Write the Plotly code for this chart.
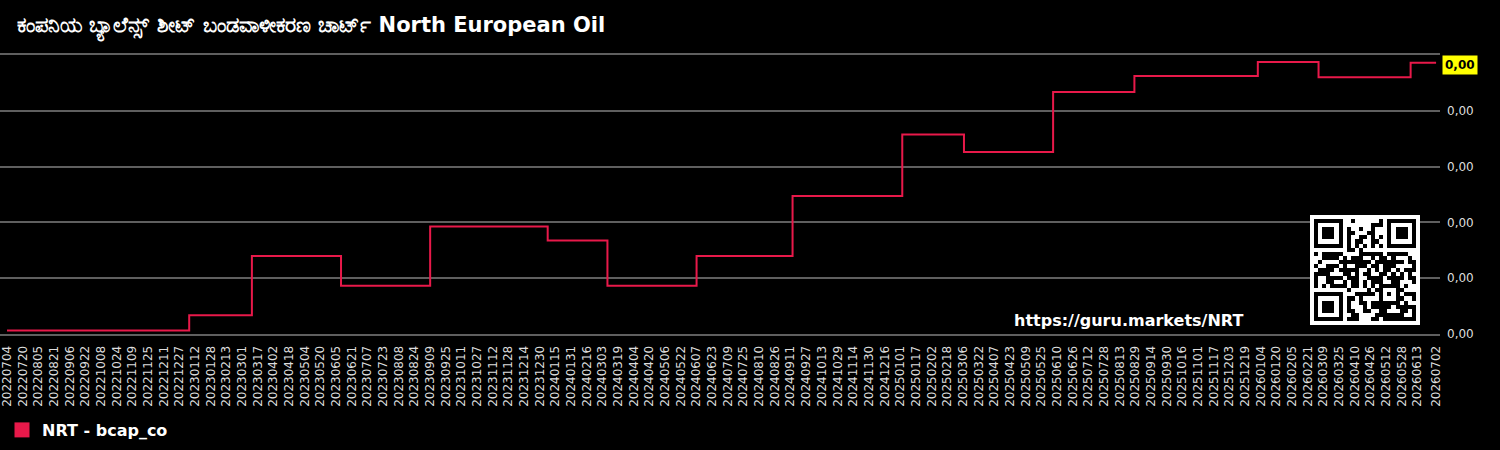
import base64
import pandas as pd
import plotly.graph_objects as go

# ---------------- data ----------------
title_text = "ಕಂಪನಿಯ ಬ್ಯಾಲೆನ್ಸ್ ಶೀಟ್ ಬಂಡವಾಳೀಕರಣ ಚಾರ್ಟ್ North European Oil"
series_name = "NRT - bcap_co"
watermark_text = "https://guru.markets/NRT"

change_dates = ["20220704", "20230106", "20230311", "20230610", "20230909",
                "20240107", "20240308", "20240607", "20240913", "20250103",
                "20250307", "20250606", "20250828", "20260101", "20260304",
                "20260606", "20260702"]
levels = [0.00005, 0.00027, 0.00112, 0.00069, 0.00154,
          0.00134, 0.00069, 0.00112, 0.00198, 0.00286,
          0.00261, 0.00347, 0.00370, 0.00390, 0.00368,
          0.00389, 0.00389]

y_ticks = [0.0, 0.0008, 0.0016, 0.0024, 0.0032]

tick_labels = [
    "20220704", "20220720", "20220805", "20220821", "20220906", "20220922", "20221008", "20221024",
    "20221109", "20221125", "20221211", "20221227", "20230112", "20230128", "20230213", "20230301",
    "20230317", "20230402", "20230418", "20230504", "20230520", "20230605", "20230621", "20230707",
    "20230723", "20230808", "20230824", "20230909", "20230925", "20231011", "20231027", "20231112",
    "20231128", "20231214", "20231230", "20240115", "20240131", "20240216", "20240303", "20240319",
    "20240404", "20240420", "20240506", "20240522", "20240607", "20240623", "20240709", "20240725",
    "20240810", "20240826", "20240911", "20240927", "20241013", "20241029", "20241114", "20241130",
    "20241216", "20250101", "20250117", "20250202", "20250218", "20250306", "20250322", "20250407",
    "20250423", "20250509", "20250525", "20250610", "20250626", "20250712", "20250728", "20250813",
    "20250829", "20250914", "20250930", "20251016", "20251101", "20251117", "20251203", "20251219",
    "20260104", "20260120", "20260205", "20260221", "20260309", "20260325", "20260410", "20260426",
    "20260512", "20260528", "20260613", "20260702"]

# ---------------- QR code (version 2-M, byte mode) ----------------
def _gf_mul(x, y):
    z = 0
    for i in reversed(range(8)):
        z = (z << 1) ^ ((z >> 7) * 0x11D)
        z ^= ((y >> i) & 1) * x
    return z


def _rs_divisor(degree):
    result = [0] * (degree - 1) + [1]
    root = 1
    for _ in range(degree):
        for j in range(degree):
            result[j] = _gf_mul(result[j], root)
            if j + 1 < degree:
                result[j] ^= result[j + 1]
        root = _gf_mul(root, 0x02)
    return result


def _rs_remainder(data, divisor):
    result = [0] * len(divisor)
    for b in data:
        factor = b ^ result.pop(0)
        result.append(0)
        for i, coef in enumerate(divisor):
            result[i] ^= _gf_mul(coef, factor)
    return result


def qr_matrix(text):
    size = 25
    ndata, nec = 28, 16
    data = text.encode("utf-8")
    bits = []

    def put(val, n):
        for i in range(n - 1, -1, -1):
            bits.append((val >> i) & 1)

    put(0b0100, 4)
    put(len(data), 8)
    for b in data:
        put(b, 8)
    cap = ndata * 8
    put(0, min(4, cap - len(bits)))
    put(0, (-len(bits)) % 8)
    pads = [0xEC, 0x11]
    k = 0
    while len(bits) < cap:
        put(pads[k % 2], 8)
        k += 1
    cw = [int("".join(str(b) for b in bits[i:i + 8]), 2) for i in range(0, cap, 8)]
    allcw = cw + _rs_remainder(cw, _rs_divisor(nec))

    mods = [[False] * size for _ in range(size)]
    isf = [[False] * size for _ in range(size)]

    def setf(x, y, dark):
        mods[y][x] = dark
        isf[y][x] = True

    for i in range(size):
        setf(6, i, i % 2 == 0)
        setf(i, 6, i % 2 == 0)
    for cx, cy in [(3, 3), (size - 4, 3), (3, size - 4)]:
        for dy in range(-4, 5):
            for dx in range(-4, 5):
                xx, yy = cx + dx, cy + dy
                if 0 <= xx < size and 0 <= yy < size:
                    setf(xx, yy, max(abs(dx), abs(dy)) not in (2, 4))
    for dy in range(-2, 3):
        for dx in range(-2, 3):
            setf(18 + dx, 18 + dy, max(abs(dx), abs(dy)) != 1)

    def draw_format(mask):
        d = (0 << 3) | mask  # EC level M -> 0
        rem = d
        for _ in range(10):
            rem = (rem << 1) ^ ((rem >> 9) * 0x537)
        fb = ((d << 10) | rem) ^ 0x5412
        g = lambda i: ((fb >> i) & 1) != 0
        for i in range(6):
            setf(8, i, g(i))
        setf(8, 7, g(6))
        setf(8, 8, g(7))
        setf(7, 8, g(8))
        for i in range(9, 15):
            setf(14 - i, 8, g(i))
        for i in range(8):
            setf(size - 1 - i, 8, g(i))
        for i in range(8, 15):
            setf(8, size - 15 + i, g(i))
        setf(8, size - 8, True)

    draw_format(0)
    i = 0
    right = size - 1
    nbits = len(allcw) * 8
    while right >= 1:
        if right == 6:
            right = 5
        for vert in range(size):
            for j in range(2):
                x = right - j
                upward = ((right + 1) & 2) == 0
                y = (size - 1 - vert) if upward else vert
                if not isf[y][x] and i < nbits:
                    mods[y][x] = ((allcw[i >> 3] >> (7 - (i & 7))) & 1) != 0
                    i += 1
        right -= 2

    masks = [
        lambda x, y: (x + y) % 2,
        lambda x, y: y % 2,
        lambda x, y: x % 3,
        lambda x, y: (x + y) % 3,
        lambda x, y: (x // 3 + y // 2) % 2,
        lambda x, y: x * y % 2 + x * y % 3,
        lambda x, y: (x * y % 2 + x * y % 3) % 2,
        lambda x, y: ((x + y) % 2 + x * y % 3) % 2,
    ]

    def apply_mask(m):
        for yy in range(size):
            for xx in range(size):
                if not isf[yy][xx] and masks[m](xx, yy) == 0:
                    mods[yy][xx] = not mods[yy][xx]

    def add_hist(run, hist):
        if hist[0] == 0:
            run += size
        hist.insert(0, run)
        hist.pop()

    def count_pat(h):
        n = h[1]
        core = n > 0 and h[2] == h[4] == h[5] == n and h[3] == n * 3
        return (1 if (core and h[0] >= n * 4 and h[6] >= n) else 0) + \
               (1 if (core and h[6] >= n * 4 and h[0] >= n) else 0)

    def term_count(color, run, hist):
        if color:
            add_hist(run, hist)
            run = 0
        run += size
        add_hist(run, hist)
        return count_pat(hist)

    def penalty():
        res = 0
        for transpose in (False, True):
            for a in range(size):
                color = False
                run = 0
                hist = [0] * 7
                for b in range(size):
                    cell = mods[b][a] if transpose else mods[a][b]
                    if cell == color:
                        run += 1
                        if run == 5:
                            res += 3
                        elif run > 5:
                            res += 1
                    else:
                        add_hist(run, hist)
                        if not color:
                            res += count_pat(hist) * 40
                        color = cell
                        run = 1
                res += term_count(color, run, hist) * 40
        for yy in range(size - 1):
            for xx in range(size - 1):
                c = mods[yy][xx]
                if c == mods[yy][xx + 1] == mods[yy + 1][xx] == mods[yy + 1][xx + 1]:
                    res += 3
        dark = sum(1 for row in mods for c in row if c)
        total = size * size
        kk = (abs(dark * 20 - total * 10) + total - 1) // total - 1
        res += kk * 10
        return res

    best, best_m = None, 0
    for m in range(8):
        apply_mask(m)
        draw_format(m)
        p = penalty()
        if best is None or p < best:
            best, best_m = p, m
        apply_mask(m)
    apply_mask(best_m)
    draw_format(best_m)
    return mods


def qr_svg_uri(text):
    mods = qr_matrix(text)
    n = len(mods) + 2
    rects = []
    for y, row in enumerate(mods):
        for x, c in enumerate(row):
            if c:
                rects.append(f'<rect x="{x + 1}" y="{y + 1}" width="1" height="1"/>')
    svg = (f'<svg xmlns="http://www.w3.org/2000/svg" viewBox="0 0 {n} {n}" '
           f'width="{n * 10}" height="{n * 10}" shape-rendering="crispEdges">'
           f'<rect width="{n}" height="{n}" fill="#ffffff"/><g fill="#000000">'
           + "".join(rects) + "</g></svg>")
    return "data:image/svg+xml;base64," + base64.b64encode(svg.encode()).decode()


# ---------------- figure ----------------
x_dates = pd.to_datetime(change_dates, format="%Y%m%d")
tick_vals = pd.to_datetime(tick_labels, format="%Y%m%d")
line_color = "#E8194A"
grid_color = "#5f5f5f"

fig = go.Figure()
fig.add_trace(go.Scatter(
    x=x_dates, y=levels, mode="lines", line=dict(color=line_color, width=2, shape="hv"),
    name=series_name, showlegend=False, hoverinfo="x+y"))
fig.add_trace(go.Scatter(
    x=[None], y=[None], mode="markers", name=series_name,
    marker=dict(symbol="square", size=15, color=line_color), showlegend=True))

W, H = 1500, 450
ml, mr, mt, mb = 0, 60, 55, 116
plot_w = W - ml - mr
plot_h = H - mt - mb

fig.update_layout(
    width=W, height=H,
    paper_bgcolor="#000000", plot_bgcolor="#000000",
    margin=dict(l=ml, r=mr, t=mt, b=mb),
    separators=",.",
    font=dict(family="DejaVu Sans", color="#dddddd", size=12),
    title=dict(text=title_text, x=17 / W, xref="container", xanchor="left",
               y=1 - 25 / H, yref="container", yanchor="middle",
               font=dict(family="DejaVu Sans", size=21, color="#ffffff", weight="bold")),
    showlegend=True,
    legend=dict(x=2 / W, xref="container", xanchor="left",
                y=(H - 430) / H, yref="container", yanchor="middle",
                orientation="h", bgcolor="rgba(0,0,0,0)",
                font=dict(family="DejaVu Sans", size=16, color="#ffffff", weight="bold")),
    xaxis=dict(type="date", range=["2022-06-26 20:00", "2026-07-06"],
               tickvals=tick_vals, ticktext=tick_labels, tickangle=-90,
               tickfont=dict(size=12, color="#dddddd"), ticklabeloverflow="allow",
               ticklabelstandoff=5,
               showgrid=False, zeroline=False, ticks="",
               showline=True, mirror=True, linecolor=grid_color, linewidth=2),
    yaxis=dict(side="right", range=[0, 0.004], tickvals=y_ticks,
               tickformat=".2f", tickfont=dict(size=12, color="#dddddd"),
               showgrid=True, gridcolor=grid_color, gridwidth=2,
               zeroline=False, showline=False, ticks="", ticklabelstandoff=6),
)

last_val = levels[-1]
fig.add_annotation(
    x=1, xref="paper", xanchor="left", xshift=2,
    y=last_val, yref="y", yanchor="middle", yshift=-2,
    text=f"{last_val:.2f}".replace(".", ","), showarrow=False,
    bgcolor="#ffff00", borderpad=2,
    font=dict(family="DejaVu Sans", size=12, color="#000000", weight="bold"))

fig.add_annotation(
    x=1245 / plot_w, xref="paper", xanchor="right",
    y=(H - mb - 320) / plot_h, yref="paper", yanchor="middle",
    text=watermark_text, showarrow=False,
    font=dict(family="DejaVu Sans", size=16, color="#ffffff", weight="bold"))

fig.add_layout_image(
    source=qr_svg_uri(watermark_text),
    xref="paper", yref="paper",
    x=1310 / plot_w, y=(H - mb - 215) / plot_h,
    sizex=110 / plot_w, sizey=110 / plot_h,
    xanchor="left", yanchor="top", sizing="stretch", layer="above")

fig.write_html("out.html")
